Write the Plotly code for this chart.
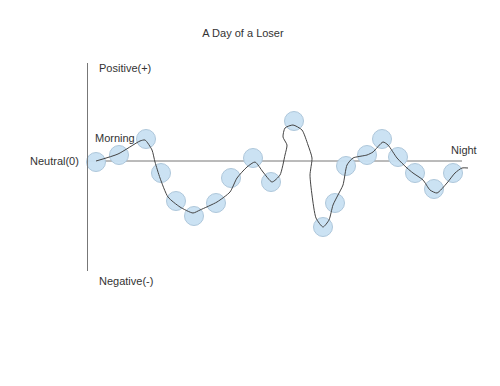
import plotly.graph_objects as go

# Mood events (circles)
time = [0.8, 3.1, 5.8, 7.3, 8.8, 10.6, 12.8, 14.3, 16.5, 18.3,
        20.6, 23.5, 24.7, 25.8, 27.9, 29.4, 31.0, 32.7, 34.6, 36.5]
mood = [-0.01, 0.06, 0.22, -0.12, -0.40, -0.55, -0.42, -0.17, 0.03, -0.21,
        0.40, -0.66, -0.42, -0.05, 0.06, 0.22, 0.04, -0.12, -0.28, -0.12]

# Hand-drawn mood curve
curve_t = [0.8, 3.0, 5.2, 5.7, 6.4, 6.7, 7.2, 8.0, 9.2, 10.5, 11.2, 12.9, 14.2, 14.9,
           15.9, 16.7, 17.5, 18.4, 19.2, 19.7, 19.9, 19.5, 19.7, 20.5, 21.4, 22.0,
           22.4, 22.2, 22.4, 22.8, 23.5, 24.1, 24.5, 25.0, 25.5, 25.9, 26.5, 27.9,
           28.5, 29.5, 30.0, 30.9, 31.9, 32.5, 33.5, 34.2, 34.9, 35.9, 36.7, 37.4, 38.0]
curve_m = [0.00, 0.07, 0.20, 0.21, 0.11, -0.01, -0.17, -0.36, -0.46, -0.52, -0.49, -0.41,
           -0.31, -0.17, -0.06, -0.01, -0.11, -0.21, -0.14, 0.06, 0.16, 0.24, 0.33, 0.36,
           0.31, 0.16, 0.03, -0.14, -0.34, -0.57, -0.66, -0.59, -0.44, -0.34, -0.24,
           -0.04, 0.03, 0.06, 0.09, 0.19, 0.16, 0.03, -0.07, -0.12, -0.19, -0.29, -0.32,
           -0.22, -0.12, -0.07, -0.07]

FONT = "Liberation Sans, Arial, sans-serif"
TXT = "#333333"

fig = go.Figure()
fig.add_trace(go.Scatter(
    x=time, y=mood, mode="markers",
    marker=dict(size=19, color="rgba(200,224,242,0.95)",
                line=dict(color="#aec7db", width=1)),
    hoverinfo="skip", cliponaxis=False))
fig.add_trace(go.Scatter(
    x=curve_t, y=curve_m, mode="lines",
    line=dict(color="#444444", width=1, shape="spline", smoothing=0.6),
    hoverinfo="skip", cliponaxis=False))

fig.add_shape(type="line", x0=0, x1=37.4, y0=0, y1=0,
              line=dict(color="#777777", width=1), layer="below")

anns = [
    dict(x=-0.0175, y=0, text="Neutral(0)", xanchor="right", yanchor="middle",
         xref="paper", yref="y"),
    dict(x=0.5, y=0.23, text="Morning", xanchor="left", yanchor="middle",
         xref="x", yref="y"),
    dict(x=36.1, y=0.11, text="Night", xanchor="left", yanchor="middle",
         xref="x", yref="y"),
    dict(x=0.9, y=0.93, text="Positive(+)", xanchor="left", yanchor="middle",
         xref="x", yref="y"),
    dict(x=0.9, y=-0.048, text="Negative(-)", xanchor="left", yanchor="middle",
         xref="x", yref="paper"),
]
for a in anns:
    fig.add_annotation(**a, showarrow=False,
                       font=dict(family=FONT, size=11, color=TXT))

fig.update_layout(
    width=500, height=386,
    margin=dict(l=80, r=20, t=55, b=123),
    paper_bgcolor="white", plot_bgcolor="white",
    showlegend=False,
    title=dict(text="A Day of a Loser", x=235/500, xanchor="center",
               y=1 - 25/386, yanchor="middle", xref="container", yref="container",
               font=dict(family=FONT, size=11, color=TXT)),
    xaxis=dict(range=[0, 40], visible=False, fixedrange=True),
    yaxis=dict(range=[-1.10, 0.98], showline=True, linecolor="#777777", linewidth=1,
               showgrid=False, zeroline=False, showticklabels=False, ticks="",
               fixedrange=True),
)

fig.write_html("out.html")
